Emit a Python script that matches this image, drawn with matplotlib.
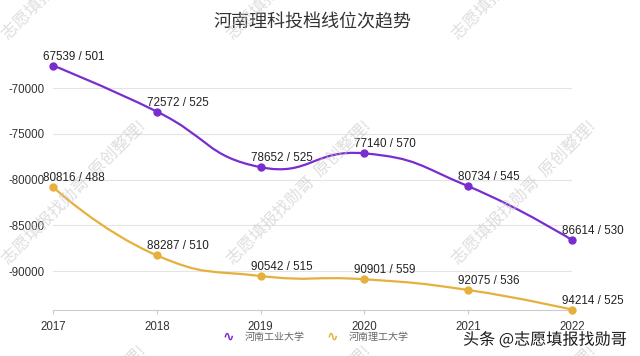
import matplotlib
matplotlib.use('Agg')
import matplotlib.pyplot as plt
import numpy as np
from matplotlib.path import Path
from matplotlib.patches import PathPatch
import matplotlib.patheffects as pe
from matplotlib.ticker import FuncFormatter

plt.rcParams['font.family'] = ['Liberation Sans', 'Noto Sans CJK SC', 'DejaVu Sans']

# data: rank (位次) / score (分数)
years = [2017, 2018, 2019, 2020, 2021, 2022]
hngy_name = '河南工业大学'
hngy_rank = [67539, 72572, 78652, 77140, 80734, 86614]
hngy_score = [501, 525, 525, 570, 545, 530]
hnlg_name = '河南理工大学'
hnlg_rank = [80816, 88287, 90542, 90901, 92075, 94214]
hnlg_score = [488, 510, 515, 559, 536, 525]
y_ticks = [-90000, -85000, -80000, -75000, -70000]

purple = '#7a2dcf'
gold = '#e5b03c'

W, H = 640, 356
fig = plt.figure(figsize=(W / 100, H / 100), dpi=100)
ax = fig.add_axes([53 / W, 1 - 309.6 / H, (572 - 53) / W, (309.6 - 65.5) / H])

all_rank = hngy_rank + hnlg_rank
ax.set_xlim(years[0], years[-1])
ax.set_ylim(-max(all_rank), -min(all_rank))


def smooth_line(xs, ys, color, smooth=0.5):
    # echarts-like smoothing, done in screen space
    pts = ax.transData.transform(np.column_stack([xs, ys]))
    n = len(pts)
    cps = []
    for i in range(n):
        p = pts[i]
        if i == 0 or i == n - 1:
            cps.append((p, p))
            continue
        prev, nxt = pts[i - 1], pts[i + 1]
        v = nxt - prev
        d0 = np.hypot(*(p - prev))
        d1 = np.hypot(*(nxt - p))
        r = d1 / (d0 + d1)
        cps.append((p - v * smooth * (1 - r), p + v * smooth * r))
    verts = [pts[0]]
    codes = [Path.MOVETO]
    for i in range(1, n):
        verts += [cps[i - 1][1], cps[i][0], pts[i]]
        codes += [Path.CURVE4] * 3
    verts = ax.transData.inverted().transform(np.array(verts))
    ax.add_patch(PathPatch(Path(verts, codes), fill=False, edgecolor=color,
                           lw=1.6, zorder=3, capstyle='round'))
    ax.plot(xs, ys, 'o', color=color, ms=5, zorder=4, clip_on=False)


for rank, score, col in [(hngy_rank, hngy_score, purple), (hnlg_rank, hnlg_score, gold)]:
    yv = [-r for r in rank]
    smooth_line(years, yv, col)
    for x, y, r, s in zip(years, yv, rank, score):
        ax.annotate(f'{r} / {s}', (x, y), xytext=(-10, 9), textcoords='offset pixels',
                    ha='left', va='center', fontsize=8.4, color='#222222', zorder=5,
                    annotation_clip=False)

ax.set_xticks(years)
ax.set_yticks(y_ticks)
ax.yaxis.set_major_formatter(FuncFormatter(lambda v, p: f'{int(v)}'))
ax.grid(axis='y', color='#e4e4e4', lw=0.8)
ax.set_axisbelow(True)
for s in ['top', 'right', 'left']:
    ax.spines[s].set_visible(False)
ax.spines['bottom'].set_color('#cccccc')
ax.tick_params(axis='y', length=0, pad=6, labelsize=8.3, labelcolor='#333333')
ax.tick_params(axis='x', length=3, color='#cccccc', pad=5, labelsize=8.3, labelcolor='#333333')

fig.text(312 / W, 1 - 22 / H, '河南理科投档线位次趋势', ha='center', va='center',
         fontsize=13, color='#333333', family=['Noto Sans CJK SC'])

# legend
for xi, name, col in [(228, hngy_name, purple), (332, hnlg_name, gold)]:
    fig.text(xi / W, 1 - 337 / H, '∿', ha='center', va='center', fontsize=10,
             fontweight='bold', color=col, family=['DejaVu Sans'])
    fig.text((xi + 17) / W, 1 - 337 / H, name, ha='left', va='center', fontsize=7.2,
             color='#666666', family=['Noto Sans CJK SC'])

# watermarks
for x0 in [8, 233, 458]:
    for y0 in [40, 265, 490]:
        fig.text(x0 / W, 1 - y0 / H, '志愿填报找勋哥  原创整理!', rotation=45,
                 rotation_mode='anchor', ha='left', va='baseline', fontsize=12,
                 color='#c8c8c8', alpha=0.6, family=['Noto Sans CJK SC'], zorder=10)

fig.text(463 / W, 1 - 340 / H, '头条 @志愿填报找勋哥', ha='left', va='center',
         fontsize=11.6, color='#1a1a1a', family=['Noto Sans CJK SC'], zorder=11,
         path_effects=[pe.withStroke(linewidth=2.5, foreground='white')])

fig.savefig('out.png', dpi=100)
